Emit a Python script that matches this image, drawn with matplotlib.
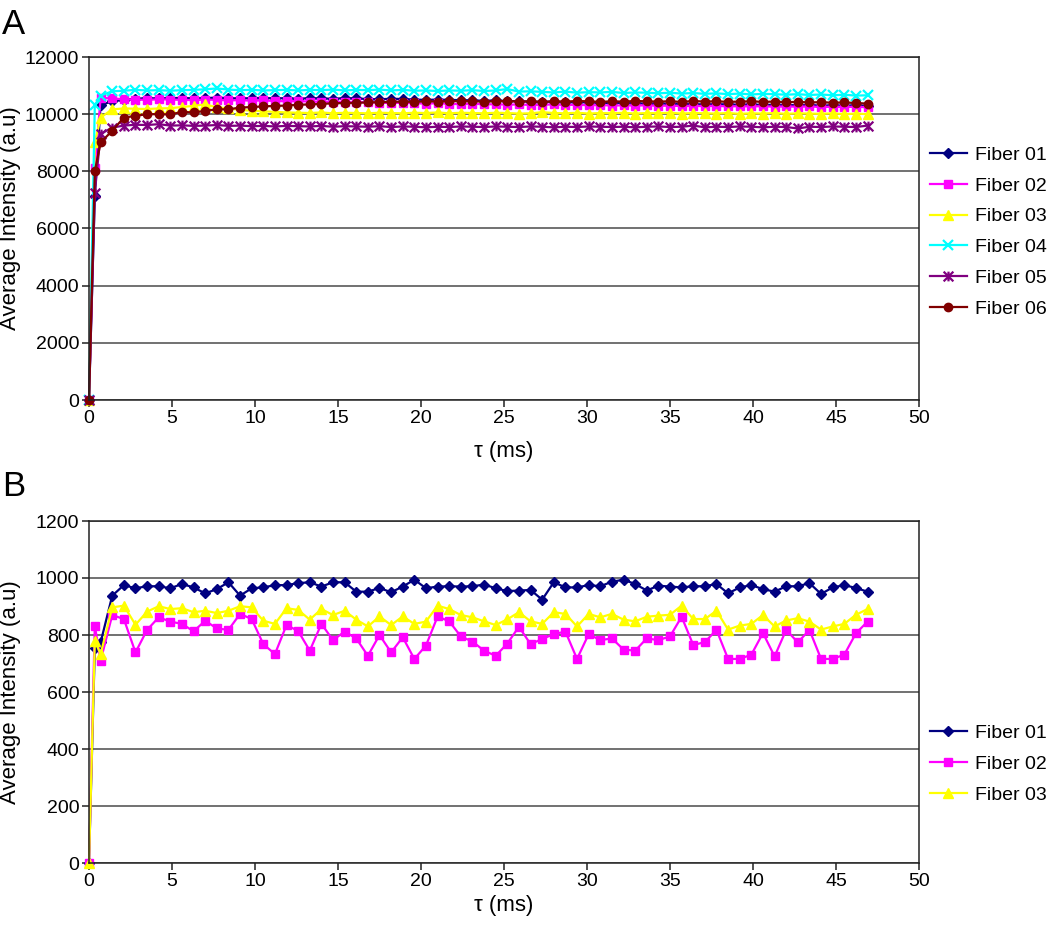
import matplotlib
matplotlib.use("Agg")
import matplotlib.pyplot as plt
from matplotlib.path import Path

plt.rcParams['font.family'] = ['Liberation Sans', 'DejaVu Sans']

# sampling times (ms)
tau = [0, 0.35, 0.7, 1.4, 2.1, 2.8, 3.5, 4.2, 4.9, 5.6,
       6.3, 7.0, 7.7, 8.4, 9.1, 9.8, 10.5, 11.2, 11.9, 12.6,
       13.3, 14.0, 14.7, 15.4, 16.1, 16.8, 17.5, 18.2, 18.9, 19.6,
       20.3, 21.0, 21.7, 22.4, 23.1, 23.8, 24.5, 25.2, 25.9, 26.6,
       27.3, 28.0, 28.7, 29.4, 30.1, 30.8, 31.5, 32.2, 32.9, 33.6,
       34.3, 35.0, 35.7, 36.4, 37.1, 37.8, 38.5, 39.2, 39.9, 40.6,
       41.3, 42.0, 42.7, 43.4, 44.1, 44.8, 45.5, 46.2, 46.9]

# panel A
a_fiber01 = [0, 7150, 10320, 10450, 10500, 10540, 10560, 10550, 10560, 10570,
             10550, 10560, 10580, 10560, 10550, 10560, 10570, 10550, 10560, 10540,
             10560, 10550, 10540, 10560, 10550, 10530, 10520, 10540, 10530, 10510,
             10500, 10510, 10500, 10490, 10480, 10470, 10480, 10460, 10450, 10440,
             10430, 10440, 10420, 10410, 10420, 10400, 10390, 10400, 10380, 10370,
             10380, 10360, 10370, 10350, 10340, 10350, 10340, 10330, 10340, 10320,
             10330, 10320, 10310, 10320, 10300, 10310, 10300, 10310, 10290]
a_fiber02 = [0, 8100, 10570, 10550, 10520, 10510, 10500, 10520, 10510, 10500,
             10490, 10510, 10500, 10480, 10490, 10470, 10480, 10460, 10450, 10460,
             10440, 10430, 10440, 10420, 10410, 10420, 10400, 10390, 10400, 10380,
             10370, 10380, 10360, 10350, 10370, 10340, 10350, 10330, 10340, 10320,
             10330, 10340, 10320, 10330, 10310, 10320, 10300, 10310, 10300, 10310,
             10290, 10300, 10280, 10290, 10280, 10290, 10270, 10280, 10270, 10280,
             10260, 10270, 10260, 10270, 10250, 10260, 10250, 10260, 10240]
a_fiber03 = [0, 9010, 9880, 10170, 10200, 10190, 10180, 10200, 10210, 10250,
             10290, 10340, 10240, 10200, 10150, 10120, 10100, 10080, 10060, 10050,
             10040, 10060, 10030, 10050, 10040, 10030, 10050, 10040, 10030, 10050,
             10040, 10060, 10030, 10050, 10040, 10030, 10050, 10040, 10020, 10030,
             10070, 10040, 10030, 10050, 10020, 10040, 10030, 10050, 10020, 10040,
             10030, 10050, 10020, 10040, 10030, 10020, 10040, 10010, 10030, 10020,
             10040, 10010, 10030, 10020, 10010, 10030, 10000, 10020, 10000]
a_fiber04 = [0, 10320, 10650, 10800, 10820, 10850, 10830, 10840, 10820, 10840,
             10850, 10870, 10900, 10860, 10840, 10850, 10830, 10840, 10850, 10830,
             10850, 10840, 10860, 10830, 10850, 10840, 10860, 10830, 10850, 10820,
             10830, 10810, 10830, 10820, 10840, 10810, 10830, 10880, 10790, 10800,
             10780, 10760, 10790, 10750, 10770, 10760, 10780, 10740, 10760, 10750,
             10730, 10750, 10720, 10740, 10710, 10730, 10700, 10720, 10690, 10710,
             10700, 10680, 10700, 10670, 10690, 10660, 10680, 10650, 10660]
a_fiber05 = [0, 7250, 9310, 9530, 9600, 9630, 9620, 9650, 9600, 9610,
             9590, 9600, 9620, 9590, 9600, 9580, 9590, 9570, 9590, 9580,
             9570, 9590, 9560, 9580, 9570, 9560, 9580, 9550, 9570, 9560,
             9540, 9560, 9550, 9570, 9560, 9550, 9570, 9560, 9550, 9570,
             9560, 9540, 9560, 9550, 9570, 9560, 9550, 9560, 9540, 9560,
             9570, 9550, 9560, 9600, 9540, 9560, 9550, 9570, 9560, 9540,
             9560, 9550, 9500, 9560, 9550, 9570, 9560, 9550, 9600]
a_fiber06 = [0, 8000, 9010, 9420, 9880, 9940, 10000, 10000, 9990, 10080,
             10060, 10115, 10170, 10170, 10230, 10250, 10270, 10290, 10300, 10330,
             10340, 10360, 10380, 10390, 10400, 10410, 10420, 10430, 10440, 10430,
             10450, 10440, 10450, 10460, 10450, 10440, 10450, 10460, 10440, 10450,
             10430, 10450, 10440, 10460, 10450, 10430, 10450, 10440, 10460, 10450,
             10440, 10450, 10430, 10460, 10440, 10450, 10430, 10440, 10450, 10430,
             10440, 10420, 10430, 10410, 10420, 10400, 10410, 10390, 10370]

# panel B
b_fiber01 = [0, 754, 774, 938, 975, 964, 971, 971, 964, 979,
             967, 946, 961, 985, 938, 964, 967, 975, 975, 982,
             985, 970, 985, 985, 952, 952, 965, 950, 970, 994,
             964, 970, 971, 970, 971, 977, 964, 954, 956, 958,
             924, 985, 967, 967, 975, 971, 987, 994, 979, 956,
             973, 970, 967, 971, 971, 979, 946, 967, 975, 961,
             952, 971, 971, 982, 944, 967, 975, 965, 952]
b_fiber02 = [0, 833, 710, 870, 856, 739, 818, 862, 847, 839,
             813, 850, 823, 818, 874, 856, 768, 733, 835, 814,
             745, 839, 782, 812, 788, 727, 800, 739, 792, 716,
             763, 865, 848, 795, 777, 745, 727, 770, 829, 768,
             786, 803, 812, 716, 803, 782, 788, 749, 745, 788,
             782, 795, 864, 765, 775, 818, 716, 716, 731, 807,
             725, 818, 774, 818, 716, 716, 731, 806, 847]
b_fiber03 = [0, 780, 733, 897, 903, 836, 882, 901, 891, 894,
             880, 885, 877, 885, 901, 897, 850, 839, 894, 888,
             854, 891, 870, 885, 854, 830, 865, 835, 865, 839,
             847, 903, 891, 870, 862, 848, 835, 855, 880, 848,
             839, 880, 874, 830, 874, 862, 874, 854, 848, 864,
             868, 871, 903, 856, 856, 885, 819, 833, 839, 870,
             830, 851, 859, 847, 819, 830, 839, 871, 891]

labels = ['Fiber 01', 'Fiber 02', 'Fiber 03', 'Fiber 04', 'Fiber 05', 'Fiber 06']

# Excel-like asterisk marker (x with a vertical bar)
star = Path([(0, -1), (0, 1), (-1, -1), (1, 1), (-1, 1), (1, -1)],
            [Path.MOVETO, Path.LINETO, Path.MOVETO, Path.LINETO, Path.MOVETO, Path.LINETO])

styles = [
    dict(color='#000080', marker='D', ms=5),
    dict(color='#FF00FF', marker='s', ms=5.5),
    dict(color='#FFFF00', marker='^', ms=7),
    dict(color='#00FFFF', marker='x', ms=6.5, mew=1.6),
    dict(color='#800080', marker=star, ms=7, mew=1.6),
    dict(color='#800000', marker='o', ms=6),
]

fig = plt.figure(figsize=(10.5, 9.3), dpi=100)
axA = fig.add_axes([89 / 1050, 1 - 400 / 930, 830 / 1050, 343 / 930])
axB = fig.add_axes([89 / 1050, 1 - 863 / 930, 830 / 1050, 342 / 930])


def style_axes(ax, ymax, ystep, xpad, ylab_y):
    ax.set_xlim(0, 50)
    ax.set_ylim(0, ymax)
    ax.set_xticks(range(0, 51, 5))
    ax.set_yticks(range(0, ymax + 1, ystep))
    ax.yaxis.grid(True, color='#4a4a4a', lw=1.1)
    ax.set_axisbelow(True)
    for s in ax.spines.values():
        s.set_color('#222222')
        s.set_linewidth(1.1)
    ax.tick_params(labelsize=14, length=5, width=1.1, direction='out',
                   color='#222222', pad=2)
    ax.set_xlabel('τ (ms)', fontsize=16, labelpad=xpad)
    ax.set_ylabel('Average Intensity (a.u)', fontsize=16)
    ax.yaxis.set_label_coords(-0.082, ylab_y)


series_a = [a_fiber01, a_fiber02, a_fiber03, a_fiber04, a_fiber05, a_fiber06]
for vals, lab, st in zip(series_a, labels, styles):
    axA.plot(tau, vals, lw=1.6, label=lab, clip_on=False, **st)
style_axes(axA, 12000, 2000, 10, 0.53)

series_b = [b_fiber01, b_fiber02, b_fiber03]
for vals, lab, st in zip(series_b, labels, styles):
    axB.plot(tau, vals, lw=1.6, label=lab, clip_on=False, **st)
style_axes(axB, 1200, 200, 4, 0.5)

fig.legend(handles=axA.get_lines(), loc='center left',
           bbox_to_anchor=(930 / 1050, 1 - 232 / 930), frameon=False,
           fontsize=14, labelspacing=0.68, handlelength=1.9,
           handletextpad=0.4, borderpad=0, borderaxespad=0)
fig.legend(handles=axB.get_lines(), loc='center left',
           bbox_to_anchor=(930 / 1050, 1 - 764 / 930), frameon=False,
           fontsize=14, labelspacing=0.68, handlelength=1.9,
           handletextpad=0.4, borderpad=0, borderaxespad=0)

fig.text(0.002, 1 - 8 / 930, 'A', fontsize=25, va='top', ha='left')
fig.text(0.002, 1 - 470 / 930, 'B', fontsize=25, va='top', ha='left')

fig.savefig('out.png', dpi=100)
